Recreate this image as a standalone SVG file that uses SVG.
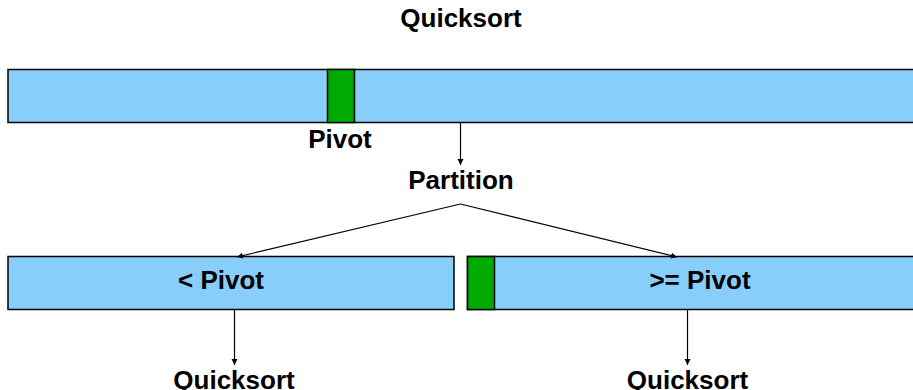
<svg xmlns="http://www.w3.org/2000/svg" width="913" height="390" viewBox="0 0 913 390">
<style>
text{font-family:"Liberation Sans",Arial,sans-serif;font-weight:bold;font-size:26px;fill:#000;text-anchor:middle}
.box{fill:#87cefa;stroke:#000;stroke-width:1.5}
.piv{fill:#00aa00;stroke:#000;stroke-width:1.5}
.ln{stroke:#000;stroke-width:1.2;fill:none}
</style>
<defs>
<marker id="ah" viewBox="0 0 10 10" refX="10" refY="5" markerWidth="6" markerHeight="10" markerUnits="userSpaceOnUse" orient="auto">
<path d="M0,0 L10,5 L0,10 z" fill="#000"/>
</marker>
</defs>
<g id="title"><text x="461" y="27">Quicksort</text></g>
<g id="array">
<rect class="box" x="8" y="69.5" width="912" height="53"/>
<rect class="piv" x="327.5" y="69.5" width="27" height="53"/>
<text x="340" y="148">Pivot</text>
</g>
<g id="partition"><text x="461" y="189">Partition</text></g>
<g id="left">
<rect class="box" x="8" y="256.5" width="446" height="53"/>
<text x="221" y="289">&lt; Pivot</text>
</g>
<g id="right">
<rect class="box" x="467.5" y="256.5" width="452" height="53"/>
<rect class="piv" x="467.5" y="256.5" width="27" height="53"/>
<text x="700" y="289">&gt;= Pivot</text>
</g>
<g id="qs-left"><text x="234" y="389">Quicksort</text></g>
<g id="qs-right"><text x="687.5" y="389">Quicksort</text></g>
<g id="connectors">
<line class="ln" x1="460.5" y1="123" x2="460.5" y2="165" marker-end="url(#ah)"/>
<line class="ln" x1="460.5" y1="204" x2="237" y2="257" marker-end="url(#ah)"/>
<line class="ln" x1="460.5" y1="204" x2="677" y2="257" marker-end="url(#ah)"/>
<line class="ln" x1="234.5" y1="310" x2="234.5" y2="365" marker-end="url(#ah)"/>
<line class="ln" x1="687.5" y1="310" x2="687.5" y2="365" marker-end="url(#ah)"/>
</g>
</svg>
